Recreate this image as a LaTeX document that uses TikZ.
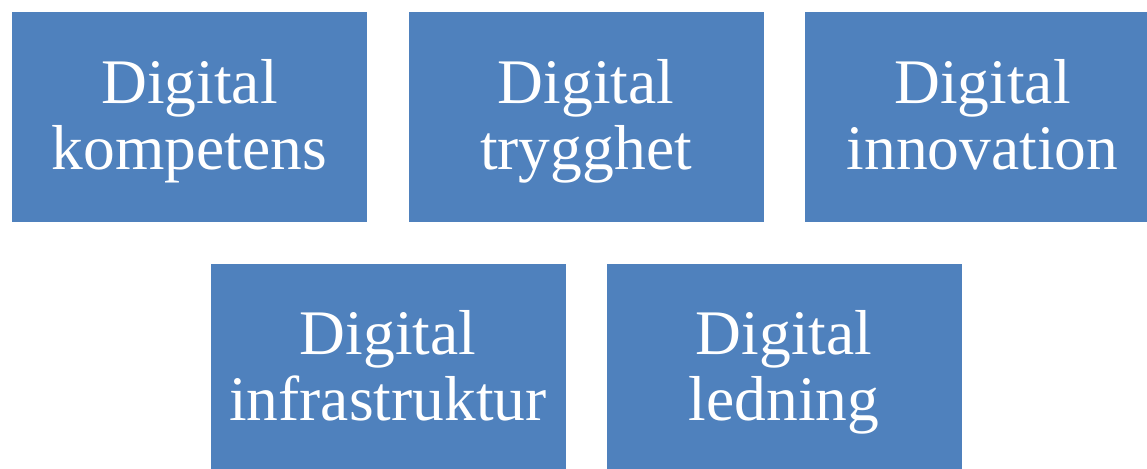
\documentclass[tikz,border=0pt]{standalone}
\usepackage{fontspec}
\setmainfont{Liberation Serif}
\usepackage{tikz}
\definecolor{areablue}{HTML}{4F81BD}
\tikzset{
	area/.style={fill=areablue, draw=none, minimum width=355pt, minimum height=210pt, inner sep=0pt},
	areatext/.style={text=white, align=center, anchor=base, inner sep=0pt, font=\fontsize{63.5}{66}\selectfont}
}

\begin{document}
\begin{tikzpicture}[x=1pt, y=-1pt]
		%%%%% START %%%%%
		
		\useasboundingbox (0, 0) rectangle (1147, 468);
		
		\node[area] (kompetens) at (189.5, 117) {};
		\node[area] (trygghet) at (586, 117) {};
		\node[area] (innovation) at (982.5, 117) {};
		
		\node[area] (infrastruktur) at (388, 369) {};
		\node[area] (ledning) at (784, 369) {};
		
		\node[areatext] (kompetenstext) at ([yshift=-158pt]kompetens.north) {Digital\\kompetens};
		\node[areatext] (trygghettext) at ([yshift=-158pt]trygghet.north) {Digital\\trygghet};
		\node[areatext] (innovationtext) at ([yshift=-158pt]innovation.north) {Digital\\innovation};
		\node[areatext] (infrastrukturtext) at ([yshift=-157pt]infrastruktur.north) {Digital\\infrastruktur};
		\node[areatext] (ledningtext) at ([yshift=-157pt]ledning.north) {Digital\\ledning};
		
		%%%%% END %%%%%
	\end{tikzpicture}
\end{document}
